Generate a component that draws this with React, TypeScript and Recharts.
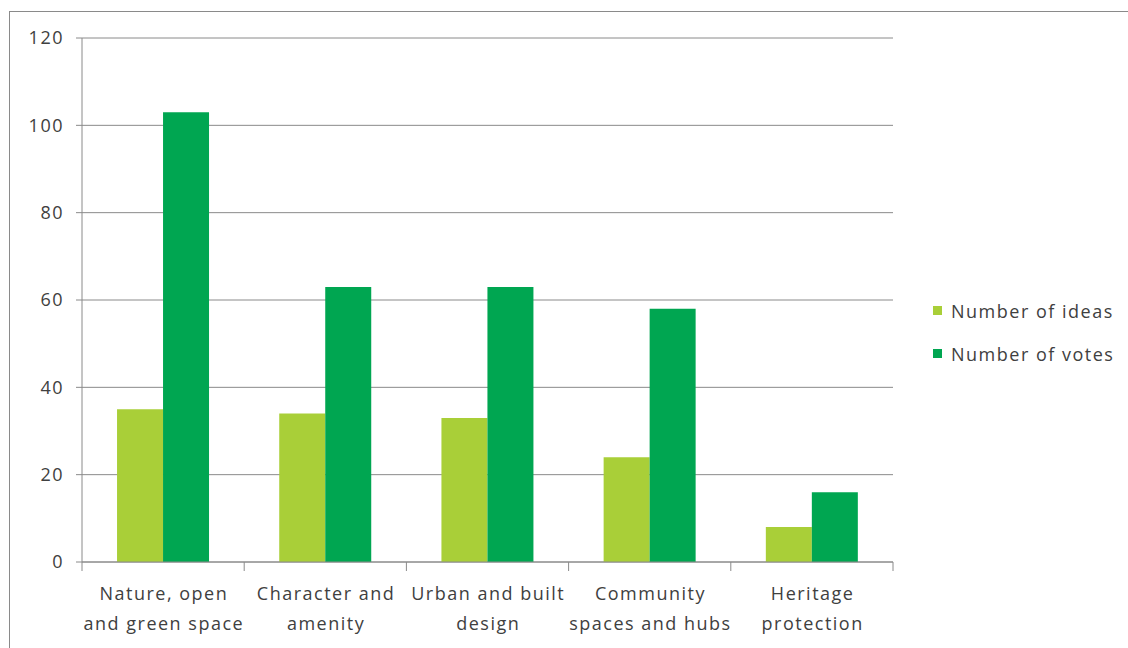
import React from "react";
import { BarChart, Bar, XAxis, YAxis, CartesianGrid, Legend } from "recharts";

const categories = [
  ["Nature, open", "and green space"],
  ["Character and", "amenity"],
  ["Urban and built", "design"],
  ["Community", "spaces and hubs"],
  ["Heritage", "protection"],
];
const ideas = [35, 34, 33, 24, 8];
const votes = [103, 63, 63, 58, 16];
const yTicks = [0, 20, 40, 60, 80, 100, 120];

const data = categories.map((c, i) => ({
  name: c.join("\n"),
  ideas: ideas[i],
  votes: votes[i],
}));

const FONT = "'Open Sans', sans-serif";
const TEXT = "#404040";
const GRID = "#8a8a8a";
const LIGHT = "#A9CF38";
const DARK = "#00A651";
const FS = 18;
const LS = 1.5;

const W = 1128;
const H = 648;
const M = { top: 38, right: 235, bottom: 26, left: 22 };
const YW = 60;
const XH = 60;
const plotW = W - M.left - M.right - YW;
const band = plotW / categories.length;

const XTick = (props: any) => {
  const { x, y, payload, index } = props;
  const lines = String(payload.value).split("\n");
  const left = x - band / 2;
  return (
    <g>
      <line x1={left} y1={y - 8} x2={left} y2={y + 1} stroke={GRID} strokeWidth={1} />
      {index === categories.length - 1 && (
        <line x1={left + band} y1={y - 8} x2={left + band} y2={y + 1} stroke={GRID} strokeWidth={1} />
      )}
      {lines.map((l, i) => (
        <text
          key={i}
          x={x + LS / 2}
          y={y + 30 + i * 30}
          textAnchor="middle"
          fill={TEXT}
          fontFamily={FONT}
          fontSize={FS}
          letterSpacing={LS}
        >
          {l}
        </text>
      ))}
    </g>
  );
};

const LegendContent = () => (
  <div style={{ fontFamily: FONT, fontSize: FS, color: TEXT, letterSpacing: LS }}>
    {[
      { label: "Number of ideas", color: LIGHT },
      { label: "Number of votes", color: DARK },
    ].map((it, i) => (
      <div key={i} style={{ display: "flex", alignItems: "center", height: 43, whiteSpace: "nowrap" }}>
        <span style={{ display: "inline-block", width: 9, height: 9, background: it.color, marginRight: 9 }} />
        <span>{it.label}</span>
      </div>
    ))}
  </div>
);

export default function App() {
  return (
    <div style={{ position: "absolute", left: 0, top: 0, width: W, height: H, overflow: "hidden", background: "#fff" }}>
      <div
        style={{
          position: "absolute",
          left: 9,
          top: 11,
          width: W + 20,
          height: H + 20,
          border: "1px solid #8a8a8a",
        }}
      />
      <div style={{ position: "absolute", left: 0, top: 0 }}>
        <BarChart
          width={W}
          height={H}
          data={data}
          margin={M}
          barCategoryGap="21.6%"
          barGap={0}
        >
          <CartesianGrid vertical={false} stroke={GRID} strokeWidth={1} />
          <XAxis
            dataKey="name"
            height={XH}
            interval={0}
            tickLine={false}
            axisLine={{ stroke: GRID }}
            tick={<XTick />}
          />
          <YAxis
            width={YW}
            domain={[0, 120]}
            ticks={yTicks}
            tickSize={6}
            tickMargin={12}
            axisLine={{ stroke: GRID }}
            tickLine={{ stroke: GRID }}
            tick={{ fill: TEXT, fontFamily: FONT, fontSize: FS, letterSpacing: LS }}
          />
          <Legend
            layout="horizontal"
            align="center"
            verticalAlign="middle"
            content={<LegendContent />}
            wrapperStyle={{ left: 933, top: 289, width: 195 }}
          />
          <Bar dataKey="ideas" name="Number of ideas" fill={LIGHT} isAnimationActive={false} />
          <Bar dataKey="votes" name="Number of votes" fill={DARK} isAnimationActive={false} />
        </BarChart>
      </div>
    </div>
  );
}
